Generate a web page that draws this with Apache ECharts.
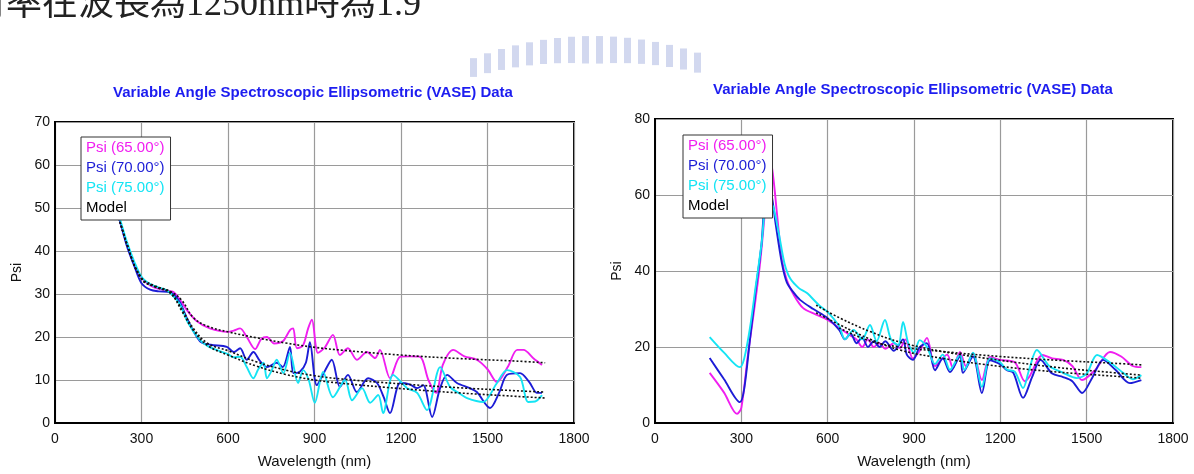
<!DOCTYPE html>
<html>
<head>
<meta charset="utf-8">
<script src="https://cdn.jsdelivr.net/npm/echarts@6/dist/echarts.min.js"></script>
<style>
  html, body { margin: 0; padding: 0; background: #fff; }
  #chart { width: 1194px; height: 474px; }
</style>
</head>
<body>
<div id="chart"></div>
<script>
// wavelength (nm), psi (deg) pairs
const left65 = [[200,53],[225,47],[250,41.5],[275,37],[300,33.8],[330,32],[360,31.2],[390,30.8],[410,30.5],[430,29],[457,26.3],[490,23.8],[537,22],[600,21.2],[620,21.5],[642,22],[665,20],[694,17.2],[715,19.5],[735,20],[760,18.5],[790,19],[815,21.6],[826,22],[839,17.4],[860,18],[878,22],[891,24],[912,16.3],[935,17.5],[964,20.5],[988,15.8],[1016,17.4],[1047,14.7],[1082,16.5],[1110,15.1],[1127,17],[1162,10.4],[1197,15.4],[1230,15.5],[1266,15.4],[1295,10],[1322,7],[1345,13.5],[1381,17],[1420,15.5],[1463,14.7],[1500,12.5],[1533,9.5],[1570,13],[1603,17],[1625,17],[1660,15],[1689,13.5]]
const left70 = [[200,53],[225,47],[250,41],[275,36.5],[300,32.5],[330,31],[360,30.6],[390,30.5],[410,30],[434,28],[460,24],[503,19],[540,18.2],[596,17.7],[620,16.5],[642,17.4],[665,14.7],[688,16.5],[710,14.5],[735,13],[769,14],[790,13],[815,17.7],[827,11.6],[850,12],[870,14],[884,18.8],[908,8.8],[935,12],[960,14.7],[988,8.4],[1016,11.2],[1047,7.2],[1086,10.4],[1117,9.3],[1140,6],[1162,2.3],[1197,9.3],[1230,9],[1256,8.1],[1277,8.8],[1308,1.4],[1335,8],[1360,11.2],[1394,9.3],[1439,8.1],[1463,7.2],[1509,3.5],[1540,7],[1568,11.2],[1613,11.6],[1645,9.5],[1672,7],[1689,7]]
const left75 = [[200,53],[225,47.5],[250,42],[275,37.5],[300,34],[330,32.3],[360,31.5],[390,30.8],[410,29.5],[434,27.5],[460,23.5],[500,19.5],[527,18],[560,17],[600,16],[619,15.3],[642,15.4],[665,13],[688,10.4],[705,12.5],[723,14],[735,10.4],[750,12],[769,14.7],[792,11.6],[815,16.3],[843,9.3],[861,12.3],[880,10],[901,4.7],[930,11.9],[964,6],[1006,10],[1030,5.3],[1065,8.1],[1093,4.7],[1121,6.5],[1138,2.3],[1173,11.2],[1221,8.1],[1256,7],[1290,3],[1336,13],[1370,8.4],[1400,7],[1429,5.8],[1485,4.9],[1530,9],[1568,12.3],[1613,10.7],[1641,4.9],[1665,5],[1689,6.5]]
const leftModel65 = [[200,53],[250,41.5],[300,33.8],[350,31.8],[400,30.6],[440,28.5],[480,24.5],[530,22.5],[600,21.2],[700,19.8],[800,18.6],[900,17.6],[1000,16.9],[1200,15.8],[1400,15],[1600,14.4],[1700,14]]
const leftModel70 = [[200,53],[250,41.5],[300,33.5],[350,31.6],[400,30.3],[440,26.5],[480,22],[530,18.5],[600,16.8],[700,14.2],[800,12.3],[900,11],[1000,10.2],[1200,9.1],[1400,8.2],[1600,7.5],[1700,7.2]]
const leftModel75 = [[200,53],[250,41.5],[300,33.5],[350,31.6],[400,30.2],[440,26],[480,21.5],[530,18],[600,15.8],[700,13.2],[800,11.3],[900,10],[1000,9.2],[1200,8],[1400,7],[1600,6.2],[1700,5.8]]

const right65 = [[190,13.2],[240,8],[285,2.4],[300,4],[323,18],[345,30],[365,42],[385,58],[400,70],[412,64],[424,55],[441,43],[458,37.6],[480,34],[514,30.3],[560,28.5],[600,27.1],[640,25],[680,23],[700,22],[720,20],[740,22],[760,20],[780,21],[800,19.5],[830,21],[851,19.7],[870,22],[896,17],[920,19],[945,22.4],[973,15],[1015,18],[1035,14.5],[1060,18.7],[1080,15],[1105,18.4],[1136,11.3],[1164,17.4],[1199,16.6],[1250,16],[1285,11],[1300,12.1],[1347,17.9],[1380,17],[1418,16.6],[1450,15],[1484,11.3],[1530,14],[1581,18.7],[1620,17.5],[1660,15],[1690,14.7]]
const right70 = [[190,17.1],[240,11.5],[295,5.5],[310,9],[330,22],[350,35],[370,47],[389,64],[405,60],[420,52],[441,42],[458,37],[480,34.5],[504,32.4],[550,30],[600,27.6],[640,24.5],[660,22],[680,23.5],[700,21],[720,22.5],[740,20],[760,21.5],[780,20],[800,21.5],[830,19],[862,22],[875,18],[896,16.6],[920,20],[945,21],[973,13.9],[1000,17],[1025,13.4],[1060,17.5],[1070,13.2],[1105,17.5],[1136,7.9],[1164,16.5],[1199,15.5],[1223,13.9],[1245,13.2],[1279,6.6],[1310,12],[1340,16.6],[1380,13],[1418,12.1],[1450,11],[1484,7.9],[1520,12],[1557,16.6],[1600,14],[1650,10.5],[1690,11.3]]
const right75 = [[190,22.6],[240,18.5],[295,14.7],[310,17],[330,25],[350,36],[370,47],[390,59],[410,57],[430,50],[450,42],[470,38],[500,35.5],[528,34.2],[570,31],[600,29.2],[640,25.5],[660,22],[690,24.5],[720,22],[747,25.8],[770,21.5],[799,27.1],[820,22],[845,20.5],[862,26.6],[880,21],[900,18.5],[920,21.8],[945,20],[973,15.5],[1000,18],[1025,14],[1060,18],[1075,14],[1105,18.5],[1136,9.5],[1164,17],[1199,16],[1223,14],[1250,13.5],[1279,9.2],[1300,14],[1327,19.2],[1370,15],[1418,13.2],[1466,11.8],[1500,13],[1536,17.9],[1580,16],[1630,13],[1660,11.5],[1690,12.6]]
const rightModel65 = [[640,25],[750,21.5],[851,20],[1000,18.8],[1200,17.5],[1400,16.5],[1600,15.7],[1690,15.3]]
const rightModel70 = [[560,29],[643,25.8],[750,22],[851,19.2],[1000,17],[1200,14.9],[1400,13.4],[1600,12.3],[1690,11.8]]
const rightModel75 = [[560,31],[643,27.6],[750,24],[851,21.3],[1000,18.8],[1200,16.5],[1400,14.6],[1600,13.2],[1690,12.6]]

const xTicks = [0, 300, 600, 900, 1200, 1500, 1800]
const legendNames = ['Psi (65.00°)', 'Psi (70.00°)', 'Psi (75.00°)', 'Model']
const titleText = 'Variable Angle Spectroscopic Ellipsometric (VASE) Data'

const colors = { a65: '#f01ef0', a70: '#1c1cd6', a75: '#14e4f4', model: '#111' }
const font = 'Liberation Sans, Arial, sans-serif'

const chart = echarts.init(document.getElementById('chart'))

function dataLine(name, data, color, idx) {
	return {
		name: name,
		type: 'line',
		xAxisIndex: idx,
		yAxisIndex: idx,
		data: data,
		smooth: 0.3,
		symbol: 'none',
		z: 2,
		lineStyle: { color: color, width: 1.9 },
		itemStyle: { color: color },
	}
}

function modelLine(data, idx) {
	return {
		name: 'Model',
		type: 'line',
		xAxisIndex: idx,
		yAxisIndex: idx,
		data: data,
		smooth: 0.4,
		symbol: 'none',
		z: 3,
		lineStyle: { color: colors.model, width: 1.6, type: [2, 2] },
		itemStyle: { color: colors.model },
	}
}

function legendFor(left, top) {
	const cols = [colors.a65, colors.a70, colors.a75, '#000']
	return {
		left: left,
		top: top,
		orient: 'vertical',
		icon: 'none',
		itemWidth: 0,
		itemHeight: 15,
		itemGap: 5,
		padding: [3, 6, 5, 0],
		backgroundColor: '#fff',
		borderColor: '#333',
		borderWidth: 1,
		selectedMode: false,
		textStyle: { fontFamily: font, fontSize: 15 },
		data: legendNames.map((n, i) => ({ name: n, textStyle: { color: cols[i] } })),
	}
}

function xAxisFor(idx) {
	return {
		type: 'value',
		gridIndex: idx,
		min: xTicks[0],
		max: xTicks[xTicks.length - 1],
		interval: 300,
		name: 'Wavelength (nm)',
		nameLocation: 'middle',
		nameGap: 31,
		nameTextStyle: { fontFamily: font, fontSize: 15, color: '#111' },
		axisLine: { lineStyle: { color: '#000', width: 2 } },
		axisTick: { show: false },
		axisLabel: { fontFamily: font, fontSize: 14, color: '#111', margin: 9, formatter: v => String(v) },
		splitLine: { lineStyle: { color: '#9a9a9a', width: 1.2 } },
	}
}

function yAxisFor(idx, max, interval) {
	return {
		type: 'value',
		gridIndex: idx,
		min: 0,
		max: max,
		interval: interval,
		name: 'Psi',
		nameLocation: 'middle',
		nameGap: 31,
		nameRotate: 90,
		nameTextStyle: { fontFamily: font, fontSize: 14, color: '#111' },
		axisLine: { lineStyle: { color: '#000', width: 2 } },
		axisTick: { show: false },
		axisLabel: { fontFamily: font, fontSize: 14, color: '#111', margin: 5 },
		splitLine: { lineStyle: { color: '#9a9a9a', width: 1.2 } },
	}
}

// faint university watermark behind the titles
const marks = []
for (let i = 0; i < 17; i++) {
	const x = 470 + i * 14
	const d = (x - 590) / 130
	const top = 36 + d * d * 26
	marks.push({
		type: 'rect',
		shape: { x: x, y: top, width: 7, height: 28 - Math.abs(d) * 10 },
		style: { fill: '#d2d8ef' },
		z: -1,
	})
}

const option = {
	backgroundColor: '#fff',
	animation: false,
	title: [
		{ text: titleText, left: 308, top: 80, textAlign: 'center',
		  textStyle: { fontFamily: font, fontSize: 15, fontWeight: 'bold', color: '#1d1df0' } },
		{ text: titleText, left: 908, top: 77, textAlign: 'center',
		  textStyle: { fontFamily: font, fontSize: 15, fontWeight: 'bold', color: '#1d1df0' } },
	],
	graphic: [
		{
			type: 'text',
			left: -30,
			top: -12,
			style: {
				text: '射率在波長為1250nm時為1.9',
				font: '36px "Liberation Serif", "Noto Sans CJK TC", serif',
				fill: '#222',
			},
		},
		{ type: 'group', children: marks, z: -1 },
	],
	legend: [legendFor(81, 137), legendFor(683, 135)],
	grid: [
		{ left: 55, right: 620, top: 122, bottom: 51, show: true, borderColor: '#000', borderWidth: 2 },
		{ left: 655, right: 21, top: 119, bottom: 51, show: true, borderColor: '#000', borderWidth: 2 },
	],
	xAxis: [xAxisFor(0), xAxisFor(1)],
	yAxis: [yAxisFor(0, 70, 10), yAxisFor(1, 80, 20)],
	series: [
		dataLine(legendNames[0], left65, colors.a65, 0),
		dataLine(legendNames[1], left70, colors.a70, 0),
		dataLine(legendNames[2], left75, colors.a75, 0),
		modelLine(leftModel65, 0),
		modelLine(leftModel70, 0),
		modelLine(leftModel75, 0),
		dataLine(legendNames[0], right65, colors.a65, 1),
		dataLine(legendNames[1], right70, colors.a70, 1),
		dataLine(legendNames[2], right75, colors.a75, 1),
		modelLine(rightModel65, 1),
		modelLine(rightModel70, 1),
		modelLine(rightModel75, 1),
	],
}

chart.setOption(option)
</script>
</body>
</html>
